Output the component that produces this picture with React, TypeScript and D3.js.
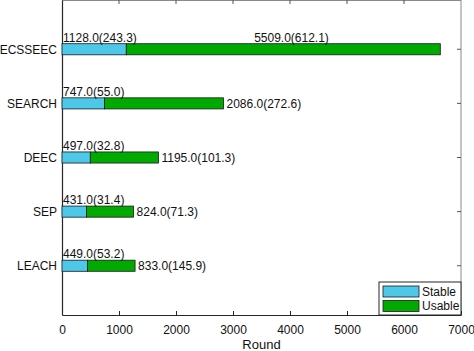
import React, { useRef, useEffect } from "react";
import * as d3 from "d3";

// protocols, bottom to top
const protocols = ["LEACH", "SEP", "DEEC", "SEARCH", "ECSSEEC"];
const stableMean = [449.0, 431.0, 497.0, 747.0, 1128.0];
const stableStd = [53.2, 31.4, 32.8, 55.0, 243.3];
const usableMean = [833.0, 824.0, 1195.0, 2086.0, 5509.0];
const usableStd = [145.9, 71.3, 101.3, 272.6, 612.1];
const xTicks = [0, 1000, 2000, 3000, 4000, 5000, 6000, 7000];

export default function App() {
  const svgRef = useRef<SVGSVGElement>(null);
  const width = 474;
  const height = 351;

  useEffect(() => {
    const svg = d3.select(svgRef.current);
    svg.selectAll("*").remove();

    const margin = { top: 0, right: 13, bottom: 36, left: 62 };
    const w = width - margin.left - margin.right;
    const h = height - margin.top - margin.bottom;
    const font = "Helvetica, Arial, 'Liberation Sans', sans-serif";

    const g = svg
      .append("g")
      .attr("transform", `translate(${margin.left},${margin.top})`);

    const x = d3.scaleLinear().domain([0, 7000]).range([0, w]);
    const y = d3.scaleLinear().domain([0.09, 5.91]).range([h, 0]);
    const barH = y(0) - y(0.205);

    const rows = protocols.map((p, i) => ({
      name: p,
      pos: i + 1,
      s: stableMean[i],
      sd: stableStd[i],
      u: usableMean[i],
      ud: usableStd[i],
    }));

    // frame top/right
    g.append("line").attr("x1", 0).attr("x2", w).attr("y1", 0.5).attr("y2", 0.5)
      .attr("stroke", "#8a8a8a").attr("stroke-width", 1);
    g.append("line").attr("x1", w).attr("x2", w).attr("y1", 0).attr("y2", h)
      .attr("stroke", "#8a8a8a").attr("stroke-width", 1);

    // top ticks / right ticks
    g.selectAll(".tt").data(xTicks.slice(1, -1)).join("line")
      .attr("x1", (d) => x(d)).attr("x2", (d) => x(d))
      .attr("y1", 0).attr("y2", 4).attr("stroke", "#555");
    g.selectAll(".rt").data(rows).join("line")
      .attr("x1", w - 4).attr("x2", w)
      .attr("y1", (d) => y(d.pos)).attr("y2", (d) => y(d.pos)).attr("stroke", "#555");

    // axes (drawn first so the bars cover the inward ticks)
    const xAxis = g.append("g")
      .attr("transform", `translate(0,${h})`)
      .call(d3.axisBottom(x).tickValues(xTicks).tickFormat(d3.format("d")).tickSize(-4).tickSizeOuter(0).tickPadding(10));
    const yAxis = g.append("g")
      .call(d3.axisLeft(y).tickValues(rows.map((r) => r.pos))
        .tickFormat((d) => protocols[(d as number) - 1]).tickSize(-4).tickSizeOuter(0).tickPadding(5));

    [xAxis, yAxis].forEach((a) => {
      a.select(".domain").attr("stroke", "#262626").attr("stroke-width", 1.2);
      a.selectAll(".tick line").attr("stroke", "#262626");
      a.selectAll(".tick text").attr("font-family", font).attr("font-size", 12).attr("fill", "#111");
    });

    // bars
    g.selectAll(".stable").data(rows).join("rect")
      .attr("x", x(0))
      .attr("y", (d) => y(d.pos) - barH / 2)
      .attr("width", (d) => x(d.s) - x(0))
      .attr("height", barH)
      .attr("fill", "#4dc8e8")
      .attr("stroke", "#1a1a1a")
      .attr("stroke-width", 0.8);

    g.selectAll(".usable").data(rows).join("rect")
      .attr("x", (d) => x(d.s))
      .attr("y", (d) => y(d.pos) - barH / 2)
      .attr("width", (d) => x(d.s + d.u) - x(d.s))
      .attr("height", barH)
      .attr("fill", "#00aa00")
      .attr("stroke", "#1a1a1a")
      .attr("stroke-width", 0.8);

    // stable labels above bar start
    g.selectAll(".slab").data(rows).join("text")
      .attr("x", 1)
      .attr("y", (d) => y(d.pos) - barH / 2 - 2)
      .attr("font-family", font)
      .attr("font-size", 12)
      .attr("fill", "#111")
      .text((d) => `${d.s.toFixed(1)}(${d.sd.toFixed(1)})`);

    // usable labels: right of bar, or above when the bar is long
    g.selectAll(".ulab").data(rows).join("text")
      .attr("x", (d) => (d.s + d.u > 5000 ? x((d.s + d.u) / 2) + 3 : x(d.s + d.u) + 3))
      .attr("y", (d) => (d.s + d.u > 5000 ? y(d.pos) - barH / 2 - 2 : y(d.pos)))
      .attr("dy", (d) => (d.s + d.u > 5000 ? 0 : "0.35em"))
      .attr("font-family", font)
      .attr("font-size", 12)
      .attr("fill", "#111")
      .text((d) => `${d.u.toFixed(1)}(${d.ud.toFixed(1)})`);

    // x label
    g.append("text")
      .attr("x", w / 2)
      .attr("y", h + 34)
      .attr("text-anchor", "middle")
      .attr("font-family", font)
      .attr("font-size", 13)
      .attr("fill", "#111")
      .text("Round");

    // legend
    const lg = g.append("g").attr("transform", `translate(${w - 82},${h - 33})`);
    lg.append("rect").attr("x", 0).attr("y", 0).attr("width", 82).attr("height", 33)
      .attr("fill", "#fff").attr("stroke", "#262626").attr("stroke-width", 1);
    const items = [
      { label: "Stable", color: "#4dc8e8" },
      { label: "Usable", color: "#00aa00" },
    ];
    items.forEach((it, i) => {
      lg.append("rect").attr("x", 4).attr("y", 4 + i * 14.5).attr("width", 36).attr("height", 11)
        .attr("fill", it.color).attr("stroke", "#1a1a1a").attr("stroke-width", 0.8);
      lg.append("text").attr("x", 43).attr("y", 9.5 + i * 14.5).attr("dy", "0.35em")
        .attr("font-family", font).attr("font-size", 12).attr("fill", "#111").text(it.label);
    });
  }, []);

  return (
    <svg
      ref={svgRef}
      width={width}
      height={height}
      style={{ position: "absolute", left: 0, top: 0, background: "#fff" }}
    />
  );
}
